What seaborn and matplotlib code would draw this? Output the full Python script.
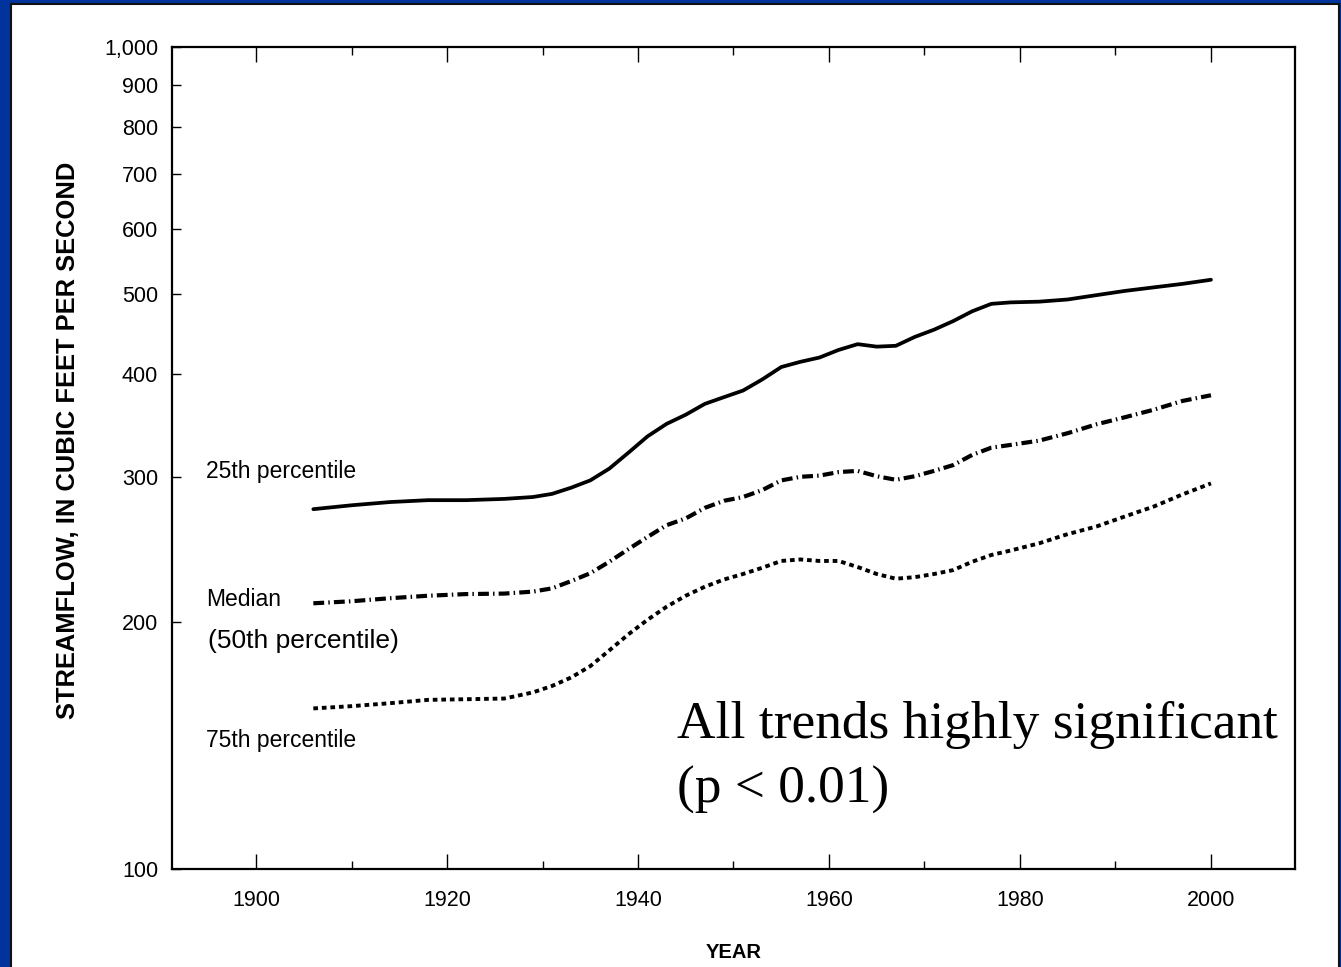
import numpy as np
import pandas as pd
import matplotlib
matplotlib.use("Agg")
import matplotlib.pyplot as plt
import matplotlib.ticker as mticker
from matplotlib.patches import Rectangle
import seaborn as sns

# --- values ---
years = [1906, 1910, 1914, 1918, 1922, 1926, 1929, 1931, 1933, 1935, 1937, 1939,
         1941, 1943, 1945, 1947, 1949, 1951, 1953, 1955, 1957, 1959, 1961, 1963,
         1965, 1967, 1969, 1971, 1973, 1975, 1977, 1979, 1982, 1985, 1988, 1991,
         1994, 1997, 2000]

p25 = [274, 277, 279.5, 281, 281, 282, 283.5, 286, 291, 297, 307, 321,
       336, 348, 357, 368, 375, 382, 394, 408, 414, 419, 428, 435,
       432, 433, 444, 453, 464, 477, 487, 489, 490, 493, 499, 505,
       510, 515, 521]

p50 = [210.5, 211.7, 213.5, 215, 216, 216.3, 217.5, 219.5, 224, 229, 236.5, 245,
       253.5, 262, 267, 275, 280.5, 283.5, 289, 297, 300, 301, 304, 305,
       300.5, 297.5, 300.5, 305, 310, 319, 325.5, 328, 332, 339, 347.5, 354.5,
       362, 371, 377]

p75 = [156.8, 157.8, 159.1, 160.6, 160.9, 161.2, 164, 167, 171, 176.5, 184.5, 193,
       201, 208.5, 215, 220.5, 225, 228.5, 232.5, 237, 238, 237, 237, 233,
       228.5, 225.5, 226.5, 228.5, 231, 236.5, 241, 244, 249, 255.5, 261, 268.5,
       276, 285.5, 294.5]

y_ticks = [100, 200, 300, 400, 500, 600, 700, 800, 900, 1000]
y_tick_labels = ["100", "200", "300", "400", "500", "600", "700", "800", "900", "1,000"]
x_ticks = [1900, 1920, 1940, 1960, 1980, 2000]

df = pd.DataFrame({"year": years, "p25": p25, "p50": p50, "p75": p75})

sns.set_theme(style="ticks")
plt.rcParams["font.family"] = ["Liberation Sans", "DejaVu Sans"]
plt.rcParams["text.color"] = "black"
plt.rcParams["axes.labelcolor"] = "black"
plt.rcParams["xtick.color"] = "black"
plt.rcParams["ytick.color"] = "black"

fig = plt.figure(figsize=(13.41, 9.67), dpi=100)
fig.patch.set_facecolor("#00339c")
# white slide panel with thin dark outline
fig.add_artist(Rectangle((11 / 1341, -0.02), 1328 / 1341, 963.5 / 967 + 0.02,
                         transform=fig.transFigure, facecolor="white",
                         edgecolor="#111111", lw=1.5, zorder=0))

ax = fig.add_axes([172 / 1341, 98 / 967, 1123 / 1341, 822 / 967])
ax.set_facecolor("white")
ax.set_yscale("log")

sns.lineplot(data=df, x="year", y="p25", ax=ax, color="black", lw=2.7,
             estimator=None, errorbar=None)
sns.lineplot(data=df, x="year", y="p50", ax=ax, color="black", lw=3,
             linestyle=(0, (2.6, 1.0, 0.35, 1.0)), estimator=None, errorbar=None)
sns.lineplot(data=df, x="year", y="p75", ax=ax, color="black", lw=2.8,
             linestyle=(0, (1.2, 1.0)), estimator=None, errorbar=None)

ax.set_xlim(1891.2, 2008.8)
ax.set_ylim(100, 1000)

ax.yaxis.set_major_locator(mticker.FixedLocator(y_ticks))
ax.yaxis.set_major_formatter(mticker.FixedFormatter(y_tick_labels))
ax.yaxis.set_minor_locator(mticker.NullLocator())
ax.xaxis.set_major_locator(mticker.FixedLocator(x_ticks))
ax.xaxis.set_minor_locator(mticker.MultipleLocator(10))

ax.tick_params(axis="x", which="major", direction="in", length=11, width=1,
               top=True, labelsize=15.5, pad=15, colors="black")
ax.tick_params(axis="x", which="minor", direction="in", length=6, width=1, top=True)
ax.tick_params(axis="y", which="major", direction="in", length=6.5, width=1,
               right=False, labelsize=15.5, pad=10, colors="black")

for s in ax.spines.values():
    s.set_visible(True)
    s.set_linewidth(1.6)
    s.set_color("black")

ax.set_xlabel("YEAR", fontsize=14.5, fontweight="bold")
ax.xaxis.set_label_coords(0.5, -0.090)
ax.set_ylabel("STREAMFLOW, IN CUBIC FEET PER SECOND", fontsize=18.4, fontweight="bold")
ax.yaxis.set_label_coords(-0.082, 0.521)

# series labels
ax.text(0.0303, 0.4757, "25th percentile", transform=ax.transAxes, fontsize=16.5,
        va="baseline", ha="left")
ax.text(0.0303, 0.3204, "Median", transform=ax.transAxes, fontsize=16.5,
        va="baseline", ha="left")
ax.text(0.0323, 0.2685, "(50th percentile)", transform=ax.transAxes, fontsize=19,
        va="baseline", ha="left")
ax.text(0.0303, 0.148, "75th percentile", transform=ax.transAxes, fontsize=16.5,
        va="baseline", ha="left")

# significance note
ax.text(0.4497, 0.1594, "All trends highly significant", transform=ax.transAxes,
        fontsize=38.4, family=["Liberation Serif", "DejaVu Serif"], va="baseline", ha="left")
ax.text(0.4497, 0.0803, "(p < 0.01)", transform=ax.transAxes,
        fontsize=38.4, family=["Liberation Serif", "DejaVu Serif"], va="baseline", ha="left")

fig.savefig("out.png", dpi=100, facecolor=fig.get_facecolor())
